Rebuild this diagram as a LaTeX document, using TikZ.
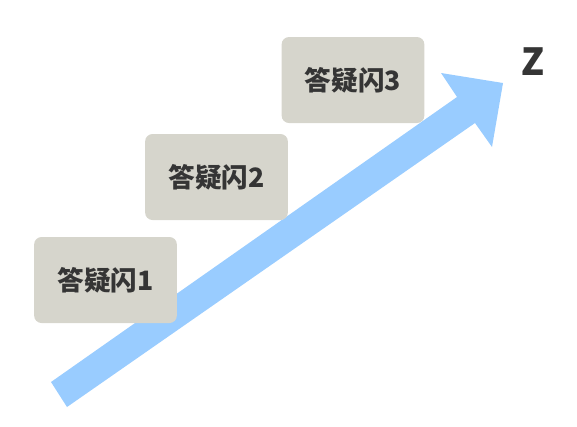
\documentclass[tikz,border=0pt]{standalone}
\usepackage{fontspec}
\setmainfont{Noto Sans CJK SC}
\begin{document}
\begin{tikzpicture}[x=0.75pt,y=-0.75pt,
  stage/.style={fill=boxgray,rounded corners=5.5pt,minimum width=107pt,minimum height=64.5pt,
    inner sep=0pt,text=textdark,font=\bfseries\fontsize{20}{23}\selectfont},
  axislabel/.style={text=textdark,font=\bfseries\fontsize{28}{32}\selectfont,inner sep=0pt}]
\definecolor{boxgray}{HTML}{D6D5CC}
\definecolor{textdark}{HTML}{353535}
\definecolor{arrowblue}{HTML}{99CCFF}
\useasboundingbox (0,0) rectangle (577,426);
% rising arrow: shaft and head
\fill[arrowblue] (51,382) -- (457,97) -- (441,73) -- (503,83) -- (492,147) -- (475,123) -- (67,407) -- cycle;
% stage boxes
\node[stage] (s1) at (105.5,280) {答疑闪1};
\node[stage] (s2) at (216.5,177) {答疑闪2};
\node[stage] (s3) at (353,80) {答疑闪3};
\node[axislabel] (z) at (533,62) {Z};
\end{tikzpicture}
\end{document}
